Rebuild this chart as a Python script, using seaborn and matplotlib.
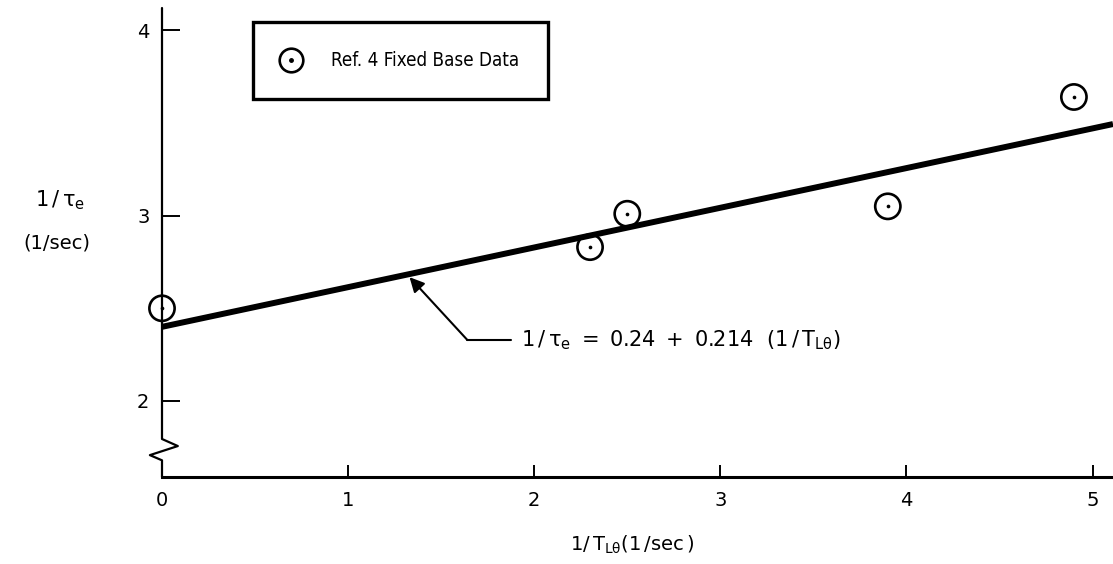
import numpy as np
import pandas as pd
import seaborn as sns
import matplotlib.pyplot as plt
from matplotlib.lines import Line2D

# data
inv_TL = [0.0, 2.3, 2.5, 3.9, 4.9]
inv_tau = [2.50, 2.83, 3.01, 3.05, 3.64]
fit_x = [0.0, 5.11]
fit_y = [2.40, 3.494]
x_ticks = [0, 1, 2, 3, 4, 5]
y_ticks = [2, 3, 4]

sns.set_style('white')
plt.rcParams['font.family'] = ['DejaVu Sans']
plt.rcParams['text.color'] = 'black'
plt.rcParams['axes.labelcolor'] = 'black'

df = pd.DataFrame({'x': inv_TL, 'y': inv_tau})
fit = pd.DataFrame({'x': fit_x, 'y': fit_y})

W, H = 1113, 564
fig = plt.figure(figsize=(W / 100, H / 100), dpi=100)
ax = fig.add_axes([162 / W, 87 / H, (W - 162) / W, (477 - 8) / H])

sns.lineplot(data=fit, x='x', y='y', ax=ax, color='black', lw=4.3, solid_capstyle='butt')
sns.scatterplot(data=df, x='x', y='y', ax=ax, marker='o', s=330, facecolor='none',
                edgecolor='black', linewidth=1.9, clip_on=False, zorder=4)
sns.scatterplot(data=df, x='x', y='y', ax=ax, marker='o', s=7, color='black',
                linewidth=0, clip_on=False, zorder=5)

ax.set_xlim(0, 5.11)
ax.set_ylim(1.59, 4.12)
ax.set_xticks(x_ticks)
ax.set_yticks(y_ticks)
ax.set_xlabel('')
ax.set_ylabel('')

for s in ['top', 'right', 'left']:
    ax.spines[s].set_visible(False)
ax.spines['bottom'].set_linewidth(2.2)
ax.spines['bottom'].set_color('black')

# left axis line with a break
zx = [0, 0, 0.085, -0.065, 0, 0]
zy = [4.12, 1.795, 1.757, 1.708, 1.68, 1.59]
ax.plot(zx, zy, color='black', lw=1.6, clip_on=False, zorder=3)

ax.tick_params(axis='x', direction='in', length=9, width=1.4, pad=10,
               labelsize=14, colors='black', bottom=True)
ax.tick_params(axis='y', direction='in', length=13, width=1.4, pad=9,
               labelsize=14, colors='black', left=True)

# equation annotation
ax.plot([1.64, 1.876], [2.33, 2.33], color='black', lw=1.5)
ax.annotate('', xy=(1.33, 2.668), xytext=(1.64, 2.33),
            arrowprops=dict(arrowstyle='-|>', color='black', lw=1.5,
                            mutation_scale=22, shrinkA=0, shrinkB=0))
ax.text(1.93, 2.33, r'$\mathregular{1\,/\,\tau_e\ =\ 0.24\ +\ 0.214\ \ (1\,/\,T_{L\theta})}$',
        fontsize=15, va='center', ha='left')

# axis labels
fig.text(60 / W, 1 - 200 / H, r'$\mathregular{1\,/\,\tau_e}$', fontsize=15, ha='center', va='center')
fig.text(57 / W, 1 - 243 / H, '(1/sec)', fontsize=14, ha='center', va='center')
fig.text(632 / W, 1 - 545 / H, r'$\mathregular{1/\,T_{L\theta}(1\,/sec\,)}$', fontsize=14,
         ha='center', va='center')

# legend
h = (Line2D([], [], marker='o', ls='none', ms=17, mfc='none', mec='black', mew=1.9),
     Line2D([], [], marker='o', ls='none', ms=2.5, color='black'))
leg = ax.legend([h], ['Ref. 4 Fixed Base Data'], loc='upper left',
                bbox_to_anchor=(253 / W, 1 - 22 / H), bbox_transform=fig.transFigure,
                borderaxespad=0, prop={'family': 'DejaVu Sans', 'stretch': 'condensed', 'size': 13.5},
                frameon=True, fancybox=False,
                edgecolor='black', framealpha=1, borderpad=1.55, handlelength=1.0,
                handleheight=0.7, handletextpad=1.6)
leg.get_frame().set_linewidth(2.4)

fig.savefig('out.png', dpi=100)
